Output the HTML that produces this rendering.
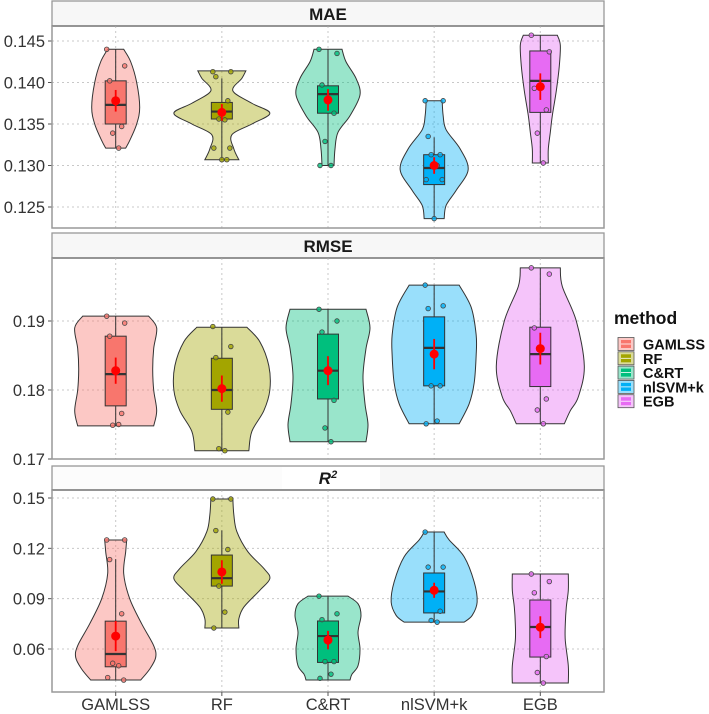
<!DOCTYPE html>
<html><head><meta charset="utf-8"><style>
html,body{margin:0;padding:0;background:#fff;}
svg{display:block;font-family:"Liberation Sans",sans-serif;}
</style></head><body>
<svg id="chart" width="709" height="714" viewBox="0 0 709 714" xmlns="http://www.w3.org/2000/svg"></svg>
<script>
const categories = ["GAMLSS","RF","C&RT","nlSVM+k","EGB"];
const colors = ["#F8766D","#A3A500","#00BF7D","#00B0F6","#E76BF3"];
const panelTitles = ["MAE","RMSE","R2"];
const maeTicks = [0.125,0.130,0.135,0.140,0.145];
const rmseTicks = [0.17,0.18,0.19];
const r2Ticks = [0.06,0.09,0.12,0.15];
// violin profiles: [value, half-width density]
const maeViolins = [
 [[0.144,8],[0.1425,15],[0.140,21],[0.137,24],[0.135,21],[0.133,14],[0.1321,10]],
 [[0.1414,24],[0.1405,20],[0.139,11],[0.1375,30],[0.1363,48],[0.135,30],[0.1337,10],[0.132,12],[0.1307,17]],
 [[0.144,14],[0.1425,18],[0.1405,28],[0.1385,32],[0.136,22],[0.134,10],[0.132,7],[0.130,6]],
 [[0.1378,8],[0.136,9],[0.1343,12],[0.132,26],[0.1295,34],[0.127,22],[0.1252,12],[0.1236,10]],
 [[0.1457,17],[0.1445,20],[0.142,19],[0.139,16],[0.136,12],[0.134,10],[0.132,8],[0.1303,8]]
];
const maeBox = [[0.1321,0.135,0.1373,0.1402,0.144],[0.1307,0.1356,0.1365,0.1376,0.1405],[0.130,0.1363,0.1386,0.1396,0.144],[0.1236,0.1277,0.1297,0.1313,0.1334],[0.1303,0.1364,0.1402,0.1438,0.1457]];
const maeMean = [[0.1378,0.0013],[0.1364,0.0010],[0.1379,0.0013],[0.130,0.0010],[0.1395,0.0016]];
const maePoints = [[0.144,0.142,0.1402,0.1347,0.1339,0.1321],[0.1413,0.1413,0.1407,0.1378,0.1356,0.1355,0.1321,0.1321,0.1307,0.1307],[0.144,0.1435,0.1397,0.1363,0.1329,0.130,0.130],[0.1378,0.1378,0.1335,0.1313,0.1313,0.130,0.1283,0.1283,0.1236],[0.1457,0.1437,0.1393,0.1367,0.1339,0.1303]];
const rmseViolins = [
 [[0.1907,33],[0.189,41],[0.186,38],[0.183,37],[0.180,38],[0.177,41],[0.1748,38]],
 [[0.1891,25],[0.187,38],[0.1835,47],[0.180,48],[0.177,42],[0.174,30],[0.1712,27]],
 [[0.1917,38],[0.189,42],[0.186,38],[0.182,35],[0.178,37],[0.175,40],[0.1725,38]],
 [[0.1952,25],[0.192,37],[0.188,42],[0.185,42],[0.181,40],[0.178,35],[0.1751,25]],
 [[0.1977,20],[0.195,22],[0.190,36],[0.1835,44],[0.179,38],[0.177,30],[0.1751,24]]
];
const rmseBox = [[0.1748,0.1777,0.1823,0.1878,0.1907],[0.1712,0.1772,0.180,0.1846,0.1891],[0.1725,0.1787,0.1828,0.1881,0.1917],[0.1751,0.1806,0.1861,0.1906,0.1952],[0.1751,0.1805,0.1852,0.1891,0.1977]];
const rmseMean = [[0.1828,0.0019],[0.1802,0.0019],[0.1828,0.0021],[0.1852,0.0022],[0.186,0.0023]];
const rmsePoints = [[0.1907,0.1897,0.1878,0.1766,0.1749,0.175],[0.1892,0.1863,0.1847,0.1768,0.1715,0.1712],[0.1917,0.190,0.1884,0.1785,0.1745,0.1725],[0.1952,0.1922,0.1918,0.1806,0.1806,0.1755,0.1751],[0.1977,0.1968,0.189,0.1787,0.1771,0.1751]];
const r2Violins = [
 [[0.125,11],[0.118,10],[0.105,8],[0.090,14],[0.075,26],[0.062,38],[0.055,40],[0.048,34],[0.0415,25]],
 [[0.1494,11],[0.140,12],[0.130,15],[0.118,26],[0.108,42],[0.102,48],[0.095,38],[0.085,22],[0.078,17],[0.0725,17]],
 [[0.0915,20],[0.087,30],[0.080,33],[0.070,30],[0.060,32],[0.050,30],[0.045,24],[0.0415,22]],
 [[0.1297,10],[0.125,15],[0.115,30],[0.100,40],[0.088,43],[0.080,38],[0.076,30]],
 [[0.1047,28],[0.095,28],[0.085,26],[0.075,25],[0.065,25],[0.050,28],[0.0397,28]]
];
const r2Box = [[0.0415,0.0494,0.057,0.0766,0.1136],[0.0725,0.0975,0.1022,0.116,0.1307],[0.0415,0.052,0.0677,0.0767,0.0915],[0.076,0.0815,0.0943,0.1053,0.1297],[0.0397,0.0552,0.0731,0.0892,0.1047]];
const r2Mean = [[0.0677,0.009],[0.1059,0.007],[0.0653,0.0055],[0.095,0.0045],[0.073,0.0065]];
const r2Points = [[0.125,0.125,0.1133,0.081,0.0515,0.050,0.043,0.0415],[0.1494,0.1494,0.1306,0.1193,0.0975,0.082,0.0725],[0.0915,0.081,0.0775,0.0525,0.0525,0.045,0.0425],[0.1297,0.1088,0.1088,0.0825,0.077,0.076],[0.1047,0.1002,0.0935,0.0555,0.046,0.0397]];

const NS="http://www.w3.org/2000/svg";
const svg=document.getElementById('chart');
function mk(tag,attrs,parent){const e=document.createElementNS(NS,tag);for(const k in attrs)e.setAttribute(k,attrs[k]);(parent||svg).appendChild(e);return e;}
const PL=52,PR=604;
const xStep=(PR-PL)/5.2;
function xPos(i){return PL+(i+0.6)*xStep;}
// panel geometry: strip top, strip bottom, plot bottom, tick value a -> y a, tick value b -> y b
const panels=[
 {st:1,sb:26,pb:228,v0:0.145,y0:41,v1:0.125,y1:207,ticks:maeTicks,fmt:3,vi:maeViolins,bx:maeBox,mn:maeMean,pt:maePoints},
 {st:233,sb:258,pb:459,v0:0.19,y0:321,v1:0.17,y1:459,ticks:rmseTicks,fmt:2,vi:rmseViolins,bx:rmseBox,mn:rmseMean,pt:rmsePoints},
 {st:466,sb:490,pb:692,v0:0.15,y0:498,v1:0.06,y1:649,ticks:r2Ticks,fmt:2,vi:r2Violins,bx:r2Box,mn:r2Mean,pt:r2Points}
];
function hex2rgba(h,a){const n=parseInt(h.slice(1),16);return `rgba(${n>>16},${(n>>8)&255},${n&255},${a})`;}
function smoothSide(pts){ // catmull-rom through pts [[x,y]]
  let d='';
  for(let i=0;i<pts.length-1;i++){
    const p0=pts[Math.max(i-1,0)],p1=pts[i],p2=pts[i+1],p3=pts[Math.min(i+2,pts.length-1)];
    const c1=[p1[0]+(p2[0]-p0[0])/6,p1[1]+(p2[1]-p0[1])/6];
    const c2=[p2[0]-(p3[0]-p1[0])/6,p2[1]-(p3[1]-p1[1])/6];
    d+=` C${c1[0]},${c1[1]} ${c2[0]},${c2[1]} ${p2[0]},${p2[1]}`;
  }
  return d;
}
panels.forEach((P,pi)=>{
  const g=mk('g',{});
  
  
  const Y=v=>P.y0+(v-P.v0)*(P.y1-P.y0)/(P.v1-P.v0);
  // strip
  const s=mk('rect',{x:PL,y:P.st,width:PR-PL,height:P.sb-P.st,fill:'#f7f7f7',stroke:'#999','stroke-width':1.3},g);
  
  
  if(pi===2){mk('rect',{x:PL+1,y:P.st+1,width:230,height:P.sb-P.st-2,fill:'#fcfcfc'},g);mk('rect',{x:282,y:P.st+1,width:98,height:P.sb-P.st-2,fill:'#ffffff'},g);}
  mk('line',{x1:PL,x2:PR,y1:P.sb,y2:P.sb,stroke:'#333','stroke-width':1.5},g);
  const st=mk('text',{x:(PL+PR)/2,y:P.sb-6,'text-anchor':'middle','font-size':17,'font-weight':'bold',fill:'#1a1a1a'},g);
  
  
  if(pi===2){st.setAttribute('font-style','italic');st.innerHTML='R<tspan font-size="11" dy="-6">2</tspan>';}
  else st.textContent=panelTitles[pi];
  // grid
  P.ticks.forEach(t=>{
    const y=Y(t);
    mk('line',{x1:PL,x2:PR,y1:y,y2:y,stroke:'#c8c8c8','stroke-dasharray':'2,3','stroke-width':1},g);
    mk('line',{x1:PL-4,x2:PL,y1:y,y2:y,stroke:'#555','stroke-width':1},g);
    const tl=mk('text',{x:PL-7,y:y+6,'text-anchor':'end','font-size':16.5,fill:'#333'},g);
    
    
    tl.textContent=t.toFixed(P.fmt);
  });
  categories.forEach((c,i)=>{const x=xPos(i);mk('line',{x1:x,x2:x,y1:P.sb,y2:P.pb,stroke:'#c8c8c8','stroke-dasharray':'2,3','stroke-width':1},g);});
  categories.forEach((c,i)=>{
    const x=xPos(i),col=colors[i];
    const prof=P.vi[i];
    const right=prof.map(p=>[x+p[1],Y(p[0])]);
    const left=prof.map(p=>[x-p[1],Y(p[0])]).reverse();
    let d=`M${x-prof[0][1]},${Y(prof[0][0])} L${right[0][0]},${right[0][1]}`+smoothSide(right)+` L${left[0][0]},${left[0][1]}`+smoothSide(left)+'Z';
    const v=mk('path',{d:d,fill:hex2rgba(col,0.4),stroke:'#333','stroke-width':1},g);
    
    
    const b=P.bx[i];
    mk('line',{x1:x,x2:x,y1:Y(b[0]),y2:Y(b[4]),stroke:'#333','stroke-width':1},g);
    const bx=mk('rect',{x:x-10.5,y:Y(b[3]),width:21,height:Y(b[1])-Y(b[3]),fill:col,stroke:'#333','stroke-width':1},g);
    
    
    mk('line',{x1:x-10.5,x2:x+10.5,y1:Y(b[2]),y2:Y(b[2]),stroke:'#333','stroke-width':2.2},g);
    const offs=[-9,9,-6,6,-3,3,-8,8,0,5];
    P.pt[i].forEach((pv,k)=>{
      const dot=mk('circle',{cx:x+offs[k%offs.length],cy:Y(pv),r:2.3,fill:col,stroke:'#444','stroke-width':0.8,'fill-opacity':0.8},g);
      
      
    });
    const m=P.mn[i];
    mk('line',{x1:x,x2:x,y1:Y(m[0]+m[1]),y2:Y(m[0]-m[1]),stroke:'#ff0000','stroke-width':1.8},g);
    const md=mk('circle',{cx:x,cy:Y(m[0]),r:4.5,fill:'#ff0000'},g);
    
    
  });
  mk('rect',{x:PL,y:P.sb,width:PR-PL,height:P.pb-P.sb,fill:'none',stroke:'#999','stroke-width':1.5},g);
});
// x axis
categories.forEach((c,i)=>{
  const x=xPos(i);
  mk('line',{x1:x,x2:x,y1:692,y2:696,stroke:'#555'});
  const t=mk('text',{x:x,y:710,'text-anchor':'middle','font-size':16.5,fill:'#333'});
  
  
  t.textContent=c;
});
// legend
const lg=mk('g',{});


const lt=mk('text',{x:614,y:324,'font-size':17.5,'font-weight':'bold',fill:'#111'},lg);


lt.textContent='method';
categories.forEach((c,i)=>{
  const y=344+i*14.3;
  const e=mk('g',{},lg);
  
  
  mk('rect',{x:618,y:y-6.5,width:16,height:13,fill:hex2rgba(colors[i],0.4),stroke:'#555','stroke-width':0.8},e);
  mk('rect',{x:621,y:y-4,width:10,height:8,fill:colors[i]},e);
  mk('line',{x1:621,x2:631,y1:y,y2:y,stroke:'#fff','stroke-width':0.8},e);
  const t=mk('text',{x:643,y:y+5.5,'font-size':14.5,'font-weight':'bold',fill:'#111'},e);
  t.textContent=c;
});
</script>
</body></html>
